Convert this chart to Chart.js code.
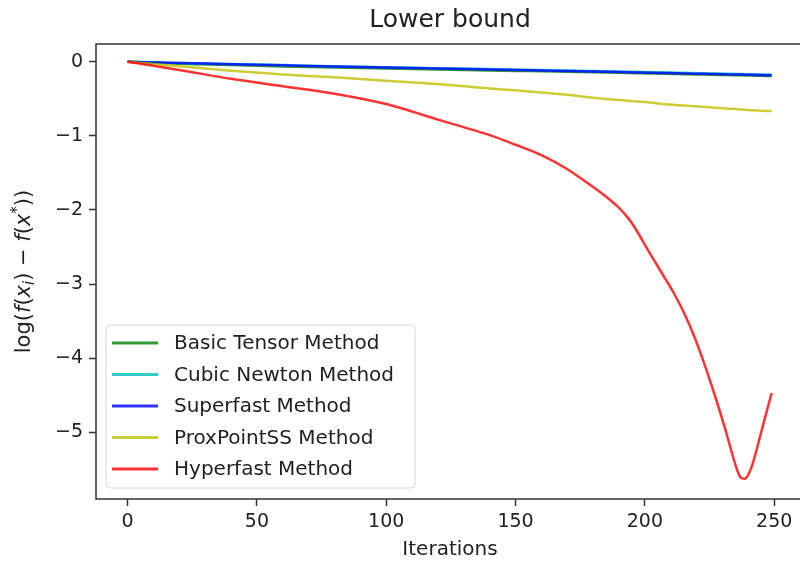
<!DOCTYPE html>
<html>
<head>
<meta charset="utf-8">
<script src="https://cdn.jsdelivr.net/npm/chart.js@4/dist/chart.umd.min.js"></script>
<style>
  html, body { margin: 0; padding: 0; width: 800px; height: 562px; overflow: hidden; background: #fff; }
  #wrap { position: absolute; left: 0; top: 0; width: 804px; height: 562px; }
</style>
</head>
<body>
<div id="wrap"><canvas id="c"></canvas></div>
<script>
// ---- data ----
const chartTitle = 'Lower bound';
const xAxisTitle = 'Iterations';
const seriesNames = ['Basic Tensor Method', 'Cubic Newton Method', 'Superfast Method', 'ProxPointSS Method', 'Hyperfast Method'];
const iterations = [0, 20, 40, 60, 80, 100, 120, 140, 150, 160, 170, 180, 190, 197, 201, 206, 211, 215, 219, 223, 227, 231, 234, 237, 241, 245, 249];
const basicTensor = [0, -0.025, -0.045, -0.062, -0.077, -0.091, -0.104, -0.117, -0.123, -0.129, -0.136, -0.142, -0.149, -0.154, -0.157, -0.160, -0.164, -0.167, -0.170, -0.173, -0.176, -0.179, -0.181, -0.183, -0.186, -0.189, -0.192];
const cubicNewton = [0, -0.015, -0.030, -0.045, -0.059, -0.073, -0.086, -0.098, -0.104, -0.110, -0.117, -0.124, -0.131, -0.136, -0.139, -0.142, -0.146, -0.149, -0.152, -0.155, -0.158, -0.161, -0.163, -0.165, -0.168, -0.170, -0.173];
const superfast = [0, -0.016, -0.032, -0.048, -0.063, -0.078, -0.092, -0.105, -0.112, -0.118, -0.125, -0.132, -0.139, -0.144, -0.147, -0.150, -0.154, -0.157, -0.160, -0.163, -0.166, -0.169, -0.171, -0.173, -0.176, -0.179, -0.182];
const proxPointSS = [0, -0.06, -0.12, -0.17, -0.21, -0.255, -0.30, -0.36, -0.385, -0.415, -0.445, -0.485, -0.515, -0.535, -0.545, -0.565, -0.58, -0.59, -0.60, -0.61, -0.62, -0.63, -0.635, -0.645, -0.655, -0.66, -0.665];
const iterationsHyper = [0, 20, 40, 60, 80, 100, 120, 140, 150, 160, 170, 180, 185, 190, 194, 197, 201, 206, 211, 215, 219, 223, 227, 231, 233, 235, 237, 239, 241, 243, 245, 247, 249];
const hyperfast = [0, -0.11, -0.23, -0.33, -0.43, -0.57, -0.78, -0.99, -1.12, -1.26, -1.45, -1.69, -1.82, -1.97, -2.13, -2.29, -2.53, -2.82, -3.11, -3.38, -3.70, -4.08, -4.50, -4.95, -5.20, -5.44, -5.61, -5.62, -5.49, -5.26, -4.99, -4.73, -4.47];
const xTicks = [0, 50, 100, 150, 200, 250];
const yTicks = [-5, -4, -3, -2, -1, 0];

const colors = ['rgba(0,128,0,0.8)', 'rgba(0,191,191,0.8)', 'rgba(0,0,255,0.8)', 'rgba(191,191,0,0.8)', 'rgba(255,0,0,0.8)'];
const seriesValues = [basicTensor, cubicNewton, superfast, proxPointSS, hyperfast];
const seriesIters = [iterations, iterations, iterations, iterations, iterationsHyper];

const FONT = "'DejaVu Sans', sans-serif";
const fmt = v => (v < 0 ? '\u2212' + Math.abs(v) : String(v));

const datasets = seriesValues.map((vals, i) => ({
  label: seriesNames[i],
  data: vals.map((v, k) => ({ x: seriesIters[i][k], y: v })),
  borderColor: colors[i],
  backgroundColor: colors[i],
  borderWidth: 2.5,
  pointRadius: 0,
  fill: false,
  tension: 0.3,
  order: seriesValues.length - i
}));

const decorPlugin = {
  id: 'decor',
  afterDraw(chart) {
    const ctx = chart.ctx;
    const a = chart.chartArea;
    ctx.save();
    // axes box
    ctx.strokeStyle = '#333';
    ctx.lineWidth = 1.5;
    ctx.strokeRect(a.left, a.top, a.right - a.left, a.bottom - a.top);

    // title centred over the axes
    ctx.fillStyle = '#222';
    ctx.font = '25px ' + FONT;
    ctx.textAlign = 'center';
    ctx.textBaseline = 'middle';
    ctx.fillText(chartTitle, (a.left + a.right) / 2, 20);

    // legend
    const bx = 106, by = 325, bw = 309, bh = 163, r = 4;
    ctx.beginPath();
    ctx.moveTo(bx + r, by);
    ctx.arcTo(bx + bw, by, bx + bw, by + bh, r);
    ctx.arcTo(bx + bw, by + bh, bx, by + bh, r);
    ctx.arcTo(bx, by + bh, bx, by, r);
    ctx.arcTo(bx, by, bx + bw, by, r);
    ctx.closePath();
    ctx.fillStyle = 'rgba(255,255,255,0.8)';
    ctx.fill();
    ctx.strokeStyle = '#d6d6d6';
    ctx.lineWidth = 1;
    ctx.stroke();
    ctx.font = '20px ' + FONT;
    ctx.textBaseline = 'middle';
    ctx.textAlign = 'left';
    chart.data.datasets.forEach((ds, i) => {
      const y = 343 + i * 31.5;
      ctx.strokeStyle = ds.borderColor;
      ctx.lineWidth = 3;
      ctx.beginPath();
      ctx.moveTo(112, y);
      ctx.lineTo(158, y);
      ctx.stroke();
      ctx.fillStyle = '#222';
      ctx.fillText(ds.label, 174, y + 1);
    });

    // y-axis label: log(f(x_i) − f(x*))
    const segs = [
      { t: 'log(', it: false },
      { t: 'f', it: true },
      { t: '(', it: false },
      { t: 'x', it: true },
      { t: 'i', it: true, sub: true },
      { t: ')', it: false },
      { t: ' \u2212 ', it: false },
      { t: 'f', it: true },
      { t: '(', it: false },
      { t: 'x', it: true },
      { t: '*', it: false, sup: true },
      { t: '))', it: false }
    ];
    const fontFor = s => (s.it ? 'italic ' : '') + ((s.sub || s.sup) ? '15px ' : '21px ') + FONT;
    let total = 0;
    segs.forEach(s => { ctx.font = fontFor(s); s.w = ctx.measureText(s.t).width; total += s.w; });
    ctx.translate(23, (a.top + a.bottom) / 2);
    ctx.rotate(-Math.PI / 2);
    ctx.fillStyle = '#222';
    ctx.textAlign = 'left';
    ctx.textBaseline = 'alphabetic';
    let x = -total / 2;
    segs.forEach(s => {
      ctx.font = fontFor(s);
      const dy = s.sub ? 11 : (s.sup ? -1 : 7);
      ctx.fillText(s.t, x, dy);
      x += s.w;
    });
    ctx.restore();
  }
};

new Chart(document.getElementById('c'), {
  type: 'line',
  data: { datasets },
  plugins: [decorPlugin],
  options: {
    responsive: true,
    maintainAspectRatio: false,
    animation: false,
    layout: { padding: { left: 0, right: 0, top: 44, bottom: 0 } },
    plugins: {
      legend: { display: false },
      tooltip: { enabled: false },
      title: { display: false }
    },
    scales: {
      x: {
        type: 'linear',
        min: -12.2,
        max: 261.5,
        afterBuildTicks: s => { s.ticks = xTicks.map(v => ({ value: v })); },
        afterFit: s => { s.height = 63; },
        grid: { display: true, drawOnChartArea: false, drawTicks: true, tickLength: 7, tickColor: '#333', tickWidth: 1.5 },
        border: { display: false },
        ticks: { color: '#222', font: { family: FONT, size: 19 }, padding: 5, maxRotation: 0, callback: v => fmt(v) },
        title: { display: true, text: xAxisTitle, color: '#222', font: { family: FONT, size: 20, lineHeight: 1.2 }, padding: { top: 0, bottom: 0 } }
      },
      y: {
        type: 'linear',
        min: -5.9,
        max: 0.24,
        afterBuildTicks: s => { s.ticks = yTicks.map(v => ({ value: v })); },
        afterFit: s => { s.width = 96; },
        grid: { display: true, drawOnChartArea: false, drawTicks: true, tickLength: 7, tickColor: '#333', tickWidth: 1.5 },
        border: { display: false },
        ticks: { color: '#222', font: { family: FONT, size: 19 }, padding: 6, callback: v => fmt(v) }
      }
    }
  }
});
</script>
</body>
</html>
